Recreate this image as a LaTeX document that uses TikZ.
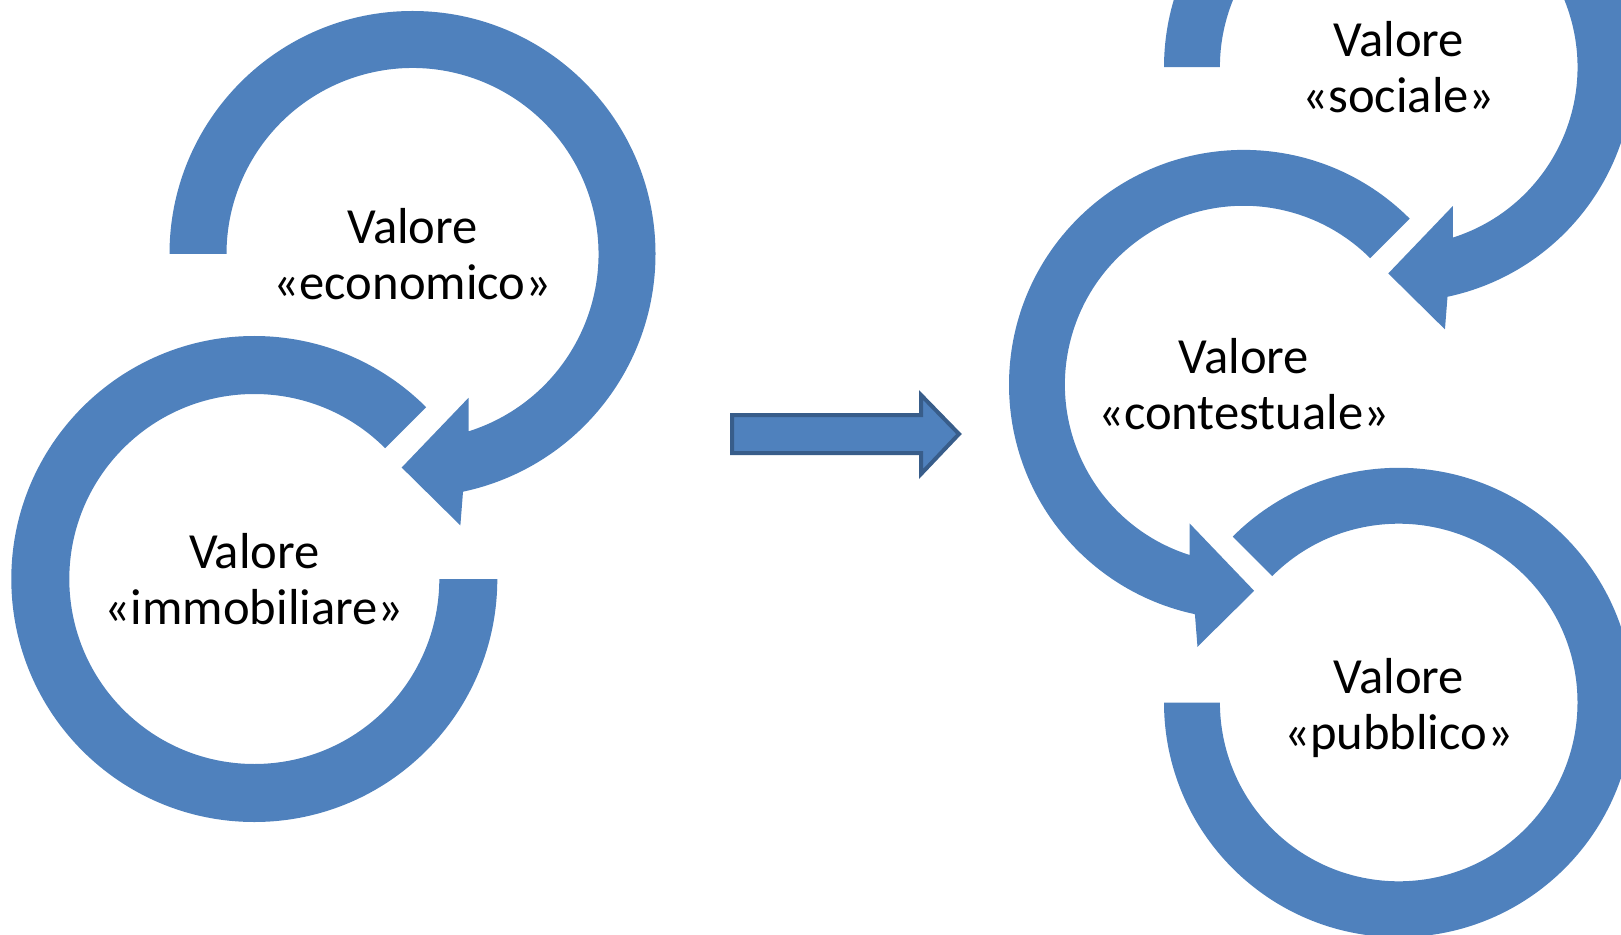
\documentclass[tikz,border=0pt]{standalone}
\usepackage{fontspec}
\setmainfont{Carlito}
\definecolor{ringblue}{RGB}{79,129,189}
\definecolor{rimblue}{RGB}{56,93,138}
\tikzset{
	ring/.style={fill=ringblue, draw=none},
	valtext/.style={align=center, inner sep=0pt, font=\fontsize{25.3}{28}\selectfont},
}

\begin{document}
\begin{tikzpicture}[x=0.5pt, y=-0.5pt]
	\useasboundingbox (0,0) rectangle (1621,935);
	\clip (0,0) rectangle (1621,935);

	% ring centres (y runs downwards, angles go clockwise)
	\coordinate (eco) at (412.5,254);
	\coordinate (imm) at (254.3,579);
	\coordinate (con) at (1243.7,384.6);
	\coordinate (soc) at (1398.7,67.2);
	\coordinate (pub) at (1398.7,702.5);

	% left pair
	\begin{scope}[shift={(eco)}]
		\fill[ring] (180:243) arc[start angle=180, end angle=438, radius=243] -- (440:275.6) -- (452.9:213.8) -- (428.7:154.3) -- (432.4:186) arc[start angle=432.4, end angle=180, radius=186] -- cycle;
	\end{scope}
	\begin{scope}[shift={(imm)}]
		\fill[ring] (0:243) arc[start angle=0, end angle=315, radius=243] -- (315:185) arc[start angle=315, end angle=0, radius=185] -- cycle;
	\end{scope}

	% right group
	\begin{scope}[shift={(soc)}]
		\fill[ring] (180:234.7) arc[start angle=180, end angle=438, radius=234.7] -- (440:266.2) -- (452.9:206.5) -- (428.7:149) -- (432.4:178.8) arc[start angle=432.4, end angle=180, radius=178.8] -- cycle;
	\end{scope}
	\begin{scope}[shift={(con)}]
		\fill[ring] (315:234.7) arc[start angle=315, end angle=102, radius=234.7] -- (100:266.2) -- (87.1:206.5) -- (111.3:149) -- (107.6:178.8) arc[start angle=107.6, end angle=315, radius=178.8] -- cycle;
	\end{scope}
	\begin{scope}[shift={(pub)}]
		\fill[ring] (180:234.7) arc[start angle=180, end angle=-135, radius=234.7] -- (-135:178.8) arc[start angle=-135, end angle=180, radius=178.8] -- cycle;
	\end{scope}

	% block arrow between the two groups
	\draw[fill=ringblue, draw=rimblue, line width=2pt, line join=miter]
		(732,415) -- (921,415) -- (921,395) -- (959,434) -- (921,474) -- (921,453) -- (732,453) -- cycle;

	\node[valtext] (Teco) at (eco) {Valore\\«economico»};
	\node[valtext] (Timm) at (imm) {Valore\\«immobiliare»};
	\node[valtext] (Tcon) at (con) {Valore\\«contestuale»};
	\node[valtext] (Tsoc) at (soc) {Valore\\«sociale»};
	\node[valtext] (Tpub) at ([yshift=-3pt]pub) {Valore\\«pubblico»};
\end{tikzpicture}
\end{document}
